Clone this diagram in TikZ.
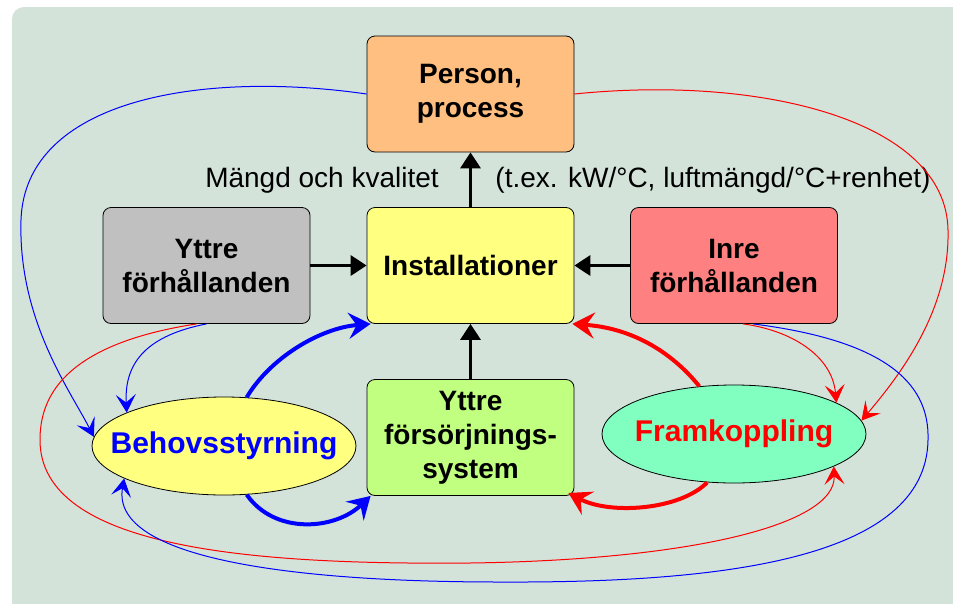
\documentclass[tikz,border=0pt]{standalone}
\usepackage{fontspec}
\setmainfont{Liberation Sans}
\usetikzlibrary{arrows.meta,shapes.geometric}
\definecolor{bgcol}{RGB}{211,227,218}
\definecolor{orangebox}{RGB}{255,191,128}
\definecolor{graybox}{RGB}{192,192,192}
\definecolor{yellowbox}{RGB}{255,255,128}
\definecolor{redbox}{RGB}{255,128,128}
\definecolor{greenbox}{RGB}{192,255,128}
\definecolor{mintbox}{RGB}{128,255,192}

\begin{document}
\begin{tikzpicture}[x=1pt,y=-1pt]
\tikzstyle{box}=[draw,line width=0.8pt,rounded corners=8pt,minimum width=207pt,minimum height=116pt,inner sep=0pt,align=center,font=\fontsize{28}{34}\selectfont\bfseries]
\tikzstyle{oval}=[draw,line width=0.8pt,ellipse,minimum width=264pt,minimum height=98pt,inner sep=0pt,font=\fontsize{30}{34}\selectfont\bfseries]
\tikzstyle{flow}=[line width=3.5pt,-{Triangle[length=16pt,width=20pt]}]
\tikzstyle{loop}=[line width=4pt,-{Stealth[length=22pt,width=26pt,inset=8pt]}]
\tikzstyle{link}=[line width=1pt,-{Stealth[length=18pt,width=20pt,inset=8pt]}]
\useasboundingbox (0,0) rectangle (953,603);
\fill[bgcol,rounded corners=12pt] (12,7) rectangle (990,640);
\draw (470.5,94) node (person) [box,fill=orangebox] {Person,\\process};
\draw (206.5,265.5) node (yttre) [box,fill=graybox] {Yttre\\förhållanden};
\draw (470.5,265.5) node (inst) [box,fill=yellowbox] {Installationer};
\draw (734,265.5) node (inre) [box,fill=redbox] {Inre\\förhållanden};
\draw (470.5,437.5) node (forsorj) [box,fill=greenbox] {Yttre\\försörjnings-\\system};
\draw (224,446) node (behov) [oval,fill=yellowbox,text=blue] {\makebox[0pt]{Behovsstyrning}};
\draw (734,434) node (fram) [oval,fill=mintbox,text=red] {\makebox[0pt]{Framkoppling}};
\draw (322,180) node (mangd) [font=\fontsize{28}{30}\selectfont] {Mängd och kvalitet};
\draw (713,180) node (tex) [font=\fontsize{28}{30}\selectfont] {(t.ex. kW/°C, luftmängd/°C+renhet)};
\draw[flow] (inst) -- (person);
\draw[flow] (yttre) -- (inst);
\draw[flow] (inre) -- (inst);
\draw[flow] (forsorj) -- (inst);
\draw[loop,blue] (behov.65) .. controls (270,358) and (320,328) .. ([xshift=4pt]inst.south west);
\draw[loop,blue] (behov.-65) .. controls (275,535) and (335,530) .. ([xshift=4pt]forsorj.south west);
\draw[loop,red] (fram.126) .. controls (670,350) and (630,328) .. ([xshift=-2pt]inst.south east);
\draw[loop,red] (fram.-119) .. controls (680,510) and (610,515) .. ([xshift=-6pt,yshift=3pt]forsorj.south east);
\draw[link,blue] (person.west) .. controls (200,70) and (25,100) .. (21,220) .. controls (18,320) and (70,390) .. (behov.176);
\draw[link,red] (person.east) .. controls (760,75) and (946,120) .. (948,230) .. controls (950,310) and (900,375) .. (fram.6);
\draw[link,blue] (yttre.south) .. controls (150,335) and (124,360) .. (behov.161);
\draw[link,red] ([xshift=-10pt]yttre.south) .. controls (60,345) and (40,400) .. (40,440) .. controls (40,548) and (250,565) .. (470,563) .. controls (690,560) and (836,525) .. (fram.-18);
\draw[link,red] ([xshift=9pt]inre.south) .. controls (790,330) and (832,355) .. (fram.17);
\draw[link,blue] ([xshift=19pt]inre.south) .. controls (880,340) and (930,380) .. (928,440) .. controls (926,560) and (720,583) .. (500,582) .. controls (300,582) and (110,560) .. (behov.198);
\end{tikzpicture}
\end{document}
